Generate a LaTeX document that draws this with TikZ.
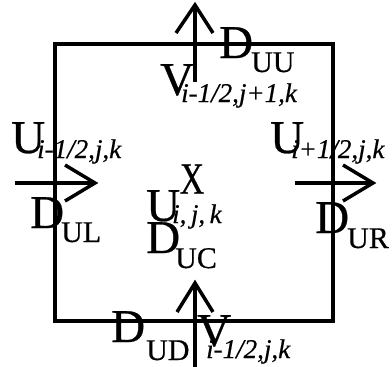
\documentclass[tikz,border=0pt]{standalone}
\usepackage{fontspec}
\setmainfont{Liberation Serif}[FakeBold=0.6]
\begin{document}
\begin{tikzpicture}[x=1pt,y=-1pt,
  big/.style={inner sep=0pt,anchor=base west,font=\fontsize{47}{47}\selectfont},
  subup/.style={inner sep=0pt,anchor=base west,font=\fontsize{30}{30}\selectfont},
  subit/.style={inner sep=0pt,anchor=base west,font=\fontsize{27}{27}\selectfont\itshape},
  boxline/.style={line width=4.5pt},
  arrline/.style={line width=3.5pt},
  barb/.style={line width=3.5pt,line join=miter}]
\useasboundingbox (0,0) rectangle (392,367);
% cell
\coordinate (c1) at (55,44);
\coordinate (c2) at (333,321);
\draw[boxline] (c1) rectangle (c2);
% top arrow
\coordinate (ts) at (195,82);
\coordinate (tt) at (195,5);
\coordinate (tl) at (176,33);
\coordinate (tr) at (213,33);
\draw[arrline] (ts) -- (tt);
\draw[barb] (tl) -- (tt) -- (tr);
% bottom arrow
\coordinate (bs) at (195,370);
\coordinate (bt) at (195,283);
\coordinate (bl) at (177,312);
\coordinate (br) at (213,312);
\draw[arrline] (bs) -- (bt);
\draw[barb] (bl) -- (bt) -- (br);
% left arrow
\coordinate (ls) at (15,183);
\coordinate (lt) at (95,183);
\coordinate (lu) at (65,165);
\coordinate (ld) at (65,201);
\draw[arrline] (ls) -- (lt);
\draw[barb] (lu) -- (lt) -- (ld);
% right arrow
\coordinate (rs) at (295,183);
\coordinate (rt) at (373,183);
\coordinate (ru) at (343,165);
\coordinate (rd) at (343,201);
\draw[arrline] (rs) -- (rt);
\draw[barb] (ru) -- (rt) -- (rd);
% labels top
\node[big] (Vt) at (160,95) {V};
\node[subit] (Vts) at (181,102) {i-1/2,j+1,k};
\node[big] (Dt) at (219,58) {D};
\node[subup] (Dts) at (251,72) {UU};
% left
\node[big] (Ul) at (11,153) {U};
\node[subit] (Uls) at (37,158) {i-1/2,j,k};
\node[big] (Dl) at (30,228) {D};
\node[subup] (Dls) at (61,242) {UL};
% right
\node[big] (Ur) at (270,153) {U};
\node[subit] (Urs) at (291,158) {i+1/2,j,k};
\node[big] (Dr) at (315,233) {D};
\node[subup] (Drs) at (347,248) {UR};
% centre
\node[inner sep=0pt,font=\fontsize{45}{45}\selectfont] (X) at (192,179) {\scalebox{0.75}[1]{X}};
\node[big] (Uc) at (146,221) {U};
\node[subit] (Ucs) at (172,223) {i,\,j,\,k};
\node[big] (Dc) at (146,253) {D};
\node[subup] (Dcs) at (175,268) {UC};
% bottom
\node[big] (Db) at (111,342) {D};
\node[subup] (Dbs) at (146,360) {UD};
\node[big] (Vb) at (197,346) {V};
\node[subit] (Vbs) at (206,358) {i-1/2,j,k};
\end{tikzpicture}
\end{document}
